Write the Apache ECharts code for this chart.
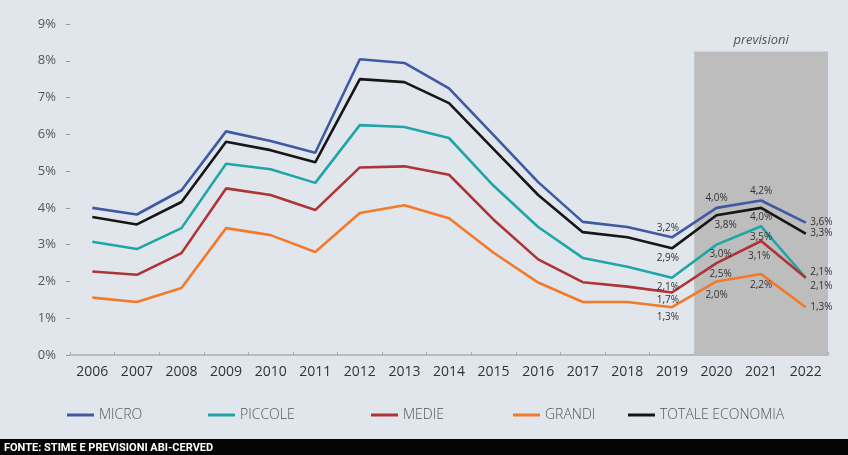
<!DOCTYPE html>
<html>
<head>
<meta charset="utf-8">
<script src="https://cdn.jsdelivr.net/npm/echarts@6/dist/echarts.min.js"></script>
<style>
  html, body { margin: 0; padding: 0; background: #e1e6ed; }
  #chart { width: 848px; height: 455px; }
</style>
</head>
<body>
<div id="chart"></div>
<script>
// anni e serie (tasso di default %)
const years = ['2006', '2007', '2008', '2009', '2010', '2011', '2012', '2013', '2014',
               '2015', '2016', '2017', '2018', '2019', '2020', '2021', '2022'];
const micro   = [4.0, 3.82, 4.48, 6.08, 5.82, 5.5, 8.04, 7.94, 7.25, 5.98, 4.7, 3.62, 3.48, 3.2, 4.0, 4.2, 3.6];
const piccole = [3.08, 2.88, 3.45, 5.2, 5.05, 4.68, 6.25, 6.2, 5.9, 4.6, 3.48, 2.64, 2.4, 2.1, 3.0, 3.5, 2.1];
const medie   = [2.27, 2.18, 2.77, 4.53, 4.35, 3.94, 5.1, 5.13, 4.9, 3.68, 2.6, 1.98, 1.86, 1.7, 2.5, 3.1, 2.1];
const grandi  = [1.56, 1.44, 1.82, 3.45, 3.26, 2.8, 3.86, 4.07, 3.72, 2.78, 1.97, 1.44, 1.44, 1.3, 2.0, 2.2, 1.3];
const totale  = [3.75, 3.55, 4.16, 5.8, 5.57, 5.24, 7.5, 7.42, 6.85, 5.6, 4.35, 3.34, 3.2, 2.9, 3.8, 4.0, 3.3];
const yTicks = ['0%', '1%', '2%', '3%', '4%', '5%', '6%', '7%', '8%', '9%'];
const forecastFrom = '2020';
const labelFrom = '2019';

const chart = echarts.init(document.getElementById('chart'));

// where the value labels sit (2019..2022)
const labelPlace = {
  'MICRO':            [['top', [-4, 0]], ['top', [0, 0]], ['top', [0, 0]], ['right', [0, 0]]],
  'PICCOLE':          [['bottom', [-4, 0]], ['bottom', [4, 0]], ['bottom', [0, 1]], ['right', [0, -6]]],
  'MEDIE':            [['bottom', [-4, -2]], ['bottom', [4, 2]], ['bottom', [-2, 6]], ['right', [0, 8]]],
  'GRANDI':           [['bottom', [-4, 0]], ['bottom', [0, 4]], ['bottom', [0, 2]], ['right', [0, 0]]],
  'TOTALE ECONOMIA':  [['bottom', [-4, 0]], ['bottom', [9, 0]], ['bottom', [0, 0]], ['right', [0, 0]]]
};

function fmt(v) {
  return v.toFixed(1).replace('.', ',') + '%';
}

function makeSeries(name, values, color) {
  const start = years.indexOf(labelFrom);
  const data = values.map((v, i) => {
    if (i < start) return { value: v, symbol: 'none' };
    const p = labelPlace[name][i - start];
    return {
      value: v,
      label: { show: true, position: p[0], offset: p[1], distance: 4 }
    };
  });
  return {
    name: name,
    type: 'line',
    data: data,
    symbol: 'circle',
    symbolSize: 1,
    showSymbol: true,
    showAllSymbol: true,
    z: 3,
    lineStyle: { color: color, width: 2.6 },
    itemStyle: { color: color },
    label: {
      show: false,
      formatter: p => fmt(p.value),
      color: '#333',
      fontSize: 10,
      fontFamily: 'Open Sans, sans-serif'
    }
  };
}

const colors = {
  'MICRO': '#3f5aa3',
  'PICCOLE': '#1fa7a5',
  'MEDIE': '#ae3436',
  'GRANDI': '#f27a2a',
  'TOTALE ECONOMIA': '#161616'
};
const legendLeft = [62, 203, 366, 508, 623];
const names = Object.keys(colors);

const option = {
  backgroundColor: '#e1e6ed',
  animation: false,
  grid: { left: 70, right: 20, top: 24, bottom: 100, containLabel: false },
  legend: names.map((n, i) => ({
    data: [{ name: n, icon: 'rect' }],
    left: legendLeft[i],
    top: 403,
    itemWidth: 27,
    itemHeight: 3,
    itemGap: 0,
    textStyle: { color: '#555', fontSize: 14, fontFamily: 'Open Sans, sans-serif', fontWeight: 300 }
  })),
  xAxis: [{
    type: 'category',
    data: years,
    boundaryGap: true,
    axisLine: { show: true, lineStyle: { color: '#a8adb3', width: 1.5 } },
    axisTick: { show: true, inside: true, length: 3, lineStyle: { color: '#a8adb3' } },
    axisLabel: { color: '#333', fontSize: 14, margin: 10, fontFamily: 'Open Sans, sans-serif' },
    splitLine: { show: false }
  }, {
    // helper axis so the forecast band covers whole category bands
    type: 'value',
    min: 0,
    max: years.length,
    show: false
  }],
  yAxis: {
    type: 'value',
    min: 0,
    max: 9,
    interval: 1,
    axisLine: { show: false },
    axisTick: { show: true, length: 4, lineStyle: { color: '#999' } },
    axisLabel: {
      color: '#555',
      fontSize: 13,
      margin: 14,
      fontFamily: 'Open Sans, sans-serif',
      formatter: v => yTicks[v]
    },
    splitLine: { show: false }
  },
  series: [
    {
      name: 'previsioni',
      type: 'line',
      xAxisIndex: 1,
      data: [],
      z: 1,
      markArea: {
        silent: true,
        itemStyle: { color: '#bdbdbd' },
        label: {
          show: true,
          position: 'top',
          distance: 5,
          color: '#555',
          fontSize: 13,
          fontStyle: 'italic',
          fontFamily: 'Open Sans, sans-serif'
        },
        data: [[
          { name: 'previsioni', xAxis: years.indexOf(forecastFrom), yAxis: 8.25 },
          { xAxis: years.length, yAxis: 0 }
        ]]
      }
    },
    makeSeries('MICRO', micro, colors['MICRO']),
    makeSeries('PICCOLE', piccole, colors['PICCOLE']),
    makeSeries('MEDIE', medie, colors['MEDIE']),
    makeSeries('GRANDI', grandi, colors['GRANDI']),
    makeSeries('TOTALE ECONOMIA', totale, colors['TOTALE ECONOMIA'])
  ],
  graphic: [
    {
      type: 'rect',
      left: 0,
      top: 439,
      shape: { width: 848, height: 16 },
      style: { fill: '#050505' }
    },
    {
      type: 'text',
      left: 4,
      top: 443,
      style: {
        text: 'FONTE: STIME E PREVISIONI ABI-CERVED',
        fill: '#fff',
        fontSize: 11,
        fontWeight: 'bold',
        fontFamily: 'Liberation Sans Narrow, Roboto, sans-serif'
      }
    }
  ]
};

chart.setOption(option);
</script>
</body>
</html>
